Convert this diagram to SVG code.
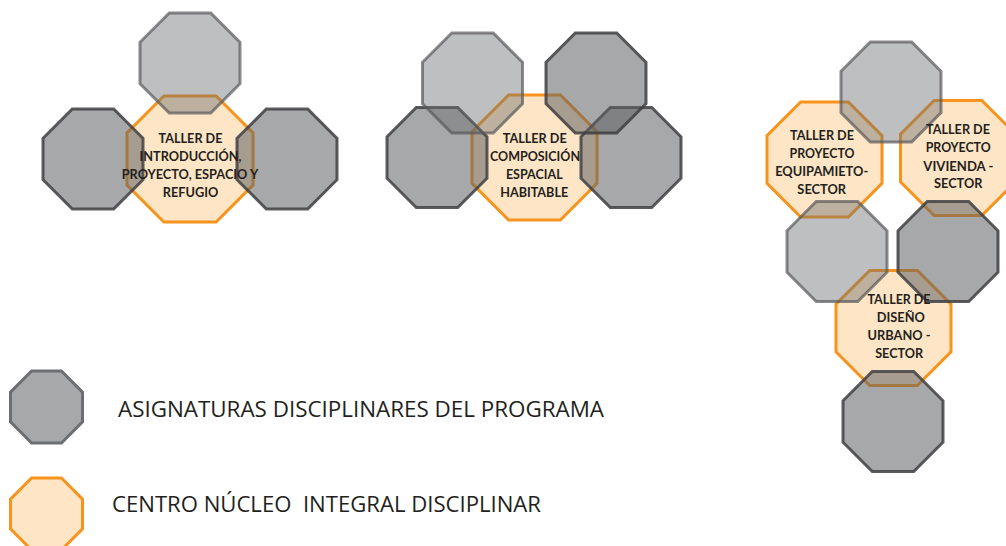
<svg xmlns="http://www.w3.org/2000/svg" width="1006" height="546" viewBox="0 0 1006 546">
<style>
.oct{stroke-width:3;stroke-linejoin:miter}
.lt{fill:#6c6d70;fill-opacity:0.44;stroke:#58595b;stroke-opacity:0.7}
.dk{fill:#5f6063;fill-opacity:0.55;stroke:#3f4042;stroke-opacity:0.85}
.or{fill:#fde5c5;stroke:#f7941d}
.lbl{font-family:Lato,"Open Sans","Liberation Sans",sans-serif;font-weight:bold;font-size:12.5px;fill:#231f20;text-anchor:middle}
.leg{font-family:"Open Sans","Liberation Sans",sans-serif;font-size:22.4px;fill:#231f20;white-space:pre}
</style>
<rect width="1006" height="546" fill="#ffffff"/>
<g id="connectors"/>

<g id="node-taller-introduccion">
<polygon class="oct or" points="163.9,96 216.1,96 253,132.9 253,185.1 216.1,222 163.9,222 127,185.1 127,132.9"/>
<polygon class="oct lt" points="169.29,13 210.71,13 240,42.29 240,83.71 210.71,113 169.29,113 140,83.71 140,42.29"/>
<polygon class="oct dk" points="72.29,109 113.71,109 143,138.29 143,179.71 113.71,209 72.29,209 43,179.71 43,138.29"/>
<polygon class="oct dk" points="266.29,109 307.71,109 337,138.29 337,179.71 307.71,209 266.29,209 237,179.71 237,138.29"/>
<text class="lbl" x="190.5" y="142.7" textLength="64" lengthAdjust="spacingAndGlyphs">TALLER DE</text>
<text class="lbl" x="190.5" y="160.7" textLength="102" lengthAdjust="spacingAndGlyphs">INTRODUCCIÓN,</text>
<text class="lbl" x="190" y="179" textLength="136.6" lengthAdjust="spacingAndGlyphs">PROYECTO, ESPACIO Y</text>
<text class="lbl" x="190.5" y="197.3" textLength="55.6" lengthAdjust="spacingAndGlyphs">REFUGIO</text>
</g>

<g id="node-taller-composicion">
<polygon class="oct or" points="508.61,95 560.39,95 597,131.61 597,183.39 560.39,220 508.61,220 472,183.39 472,131.61"/>
<polygon class="oct dk" points="416.29,107.5 457.71,107.5 487,136.79 487,178.21 457.71,207.5 416.29,207.5 387,178.21 387,136.79"/>
<polygon class="oct dk" points="610.29,107.5 651.71,107.5 681,136.79 681,178.21 651.71,207.5 610.29,207.5 581,178.21 581,136.79"/>
<polygon class="oct lt" points="451.79,33 493.21,33 522.5,62.29 522.5,103.71 493.21,133 451.79,133 422.5,103.71 422.5,62.29"/>
<polygon class="oct dk" points="575.29,33 616.71,33 646,62.29 646,103.71 616.71,133 575.29,133 546,103.71 546,62.29"/>
<text class="lbl" x="534.7" y="142.7" textLength="64" lengthAdjust="spacingAndGlyphs">TALLER DE</text>
<text class="lbl" x="535" y="160.7" textLength="90" lengthAdjust="spacingAndGlyphs">COMPOSICIÓN</text>
<text class="lbl" x="534.3" y="179" textLength="56.7" lengthAdjust="spacingAndGlyphs">ESPACIAL</text>
<text class="lbl" x="534.2" y="196.7" textLength="68" lengthAdjust="spacingAndGlyphs">HABITABLE</text>
</g>

<g id="node-sector-group">
<polygon class="oct or" points="800.68,102 848.32,102 882,135.68 882,183.32 848.32,217 800.68,217 767,183.32 767,135.68"/>
<polygon class="oct or" points="934.18,100.5 981.82,100.5 1015.5,134.18 1015.5,181.82 981.82,215.5 934.18,215.5 900.5,181.82 900.5,134.18"/>
<polygon class="oct or" points="869.68,270.5 917.32,270.5 951,304.18 951,351.82 917.32,385.5 869.68,385.5 836,351.82 836,304.18"/>
<polygon class="oct lt" points="870.29,42 911.71,42 941,71.29 941,112.71 911.71,142 870.29,142 841,112.71 841,71.29"/>
<polygon class="oct lt" points="816.29,201.5 857.71,201.5 887,230.79 887,272.21 857.71,301.5 816.29,301.5 787,272.21 787,230.79"/>
<polygon class="oct dk" points="927.29,201.5 968.71,201.5 998,230.79 998,272.21 968.71,301.5 927.29,301.5 898,272.21 898,230.79"/>
<polygon class="oct dk" points="872.29,371.5 913.71,371.5 943,400.79 943,442.21 913.71,471.5 872.29,471.5 843,442.21 843,400.79"/>
</g>

<g id="node-taller-equipamiento">
<text class="lbl" x="822" y="140" textLength="64" lengthAdjust="spacingAndGlyphs">TALLER DE</text>
<text class="lbl" x="822" y="158.3" textLength="65" lengthAdjust="spacingAndGlyphs">PROYECTO</text>
<text class="lbl" x="821.7" y="176" textLength="93" lengthAdjust="spacingAndGlyphs">EQUIPAMIETO-</text>
<text class="lbl" x="821.7" y="194" textLength="48.7" lengthAdjust="spacingAndGlyphs">SECTOR</text>
</g>

<g id="node-taller-vivienda">
<text class="lbl" x="958" y="134.3" textLength="64" lengthAdjust="spacingAndGlyphs">TALLER DE</text>
<text class="lbl" x="958.2" y="152.3" textLength="65" lengthAdjust="spacingAndGlyphs">PROYECTO</text>
<text class="lbl" x="958.3" y="170.7" textLength="70" lengthAdjust="spacingAndGlyphs">VIVIENDA -</text>
<text class="lbl" x="958.2" y="188.3" textLength="48.3" lengthAdjust="spacingAndGlyphs">SECTOR</text>
</g>

<g id="node-taller-diseno-urbano">
<text class="lbl" x="899" y="304.3" textLength="63" lengthAdjust="spacingAndGlyphs">TALLER DE</text>
<text class="lbl" x="900.8" y="322.3" textLength="48" lengthAdjust="spacingAndGlyphs">DISEÑO</text>
<text class="lbl" x="899" y="340" textLength="63" lengthAdjust="spacingAndGlyphs">URBANO -</text>
<text class="lbl" x="899.2" y="357.7" textLength="48" lengthAdjust="spacingAndGlyphs">SECTOR</text>
</g>

<g id="legend-asignaturas">
<polygon class="oct" style="fill:#a7a8aa;stroke:#6d6e71" points="31.59,371 61.41,371 82.5,392.09 82.5,421.91 61.41,443 31.59,443 10.5,421.91 10.5,392.09"/>
<text class="leg" x="118" y="416.7" textLength="486" lengthAdjust="spacingAndGlyphs">ASIGNATURAS DISCIPLINARES DEL PROGRAMA</text>
</g>

<g id="legend-centro">
<polygon class="oct or" points="31.59,478 61.41,478 82.5,499.09 82.5,528.91 61.41,550 31.59,550 10.5,528.91 10.5,499.09"/>
<text class="leg" x="112" y="511.7" textLength="429" lengthAdjust="spacingAndGlyphs">CENTRO NÚCLEO  INTEGRAL DISCIPLINAR</text>
</g>
</svg>
